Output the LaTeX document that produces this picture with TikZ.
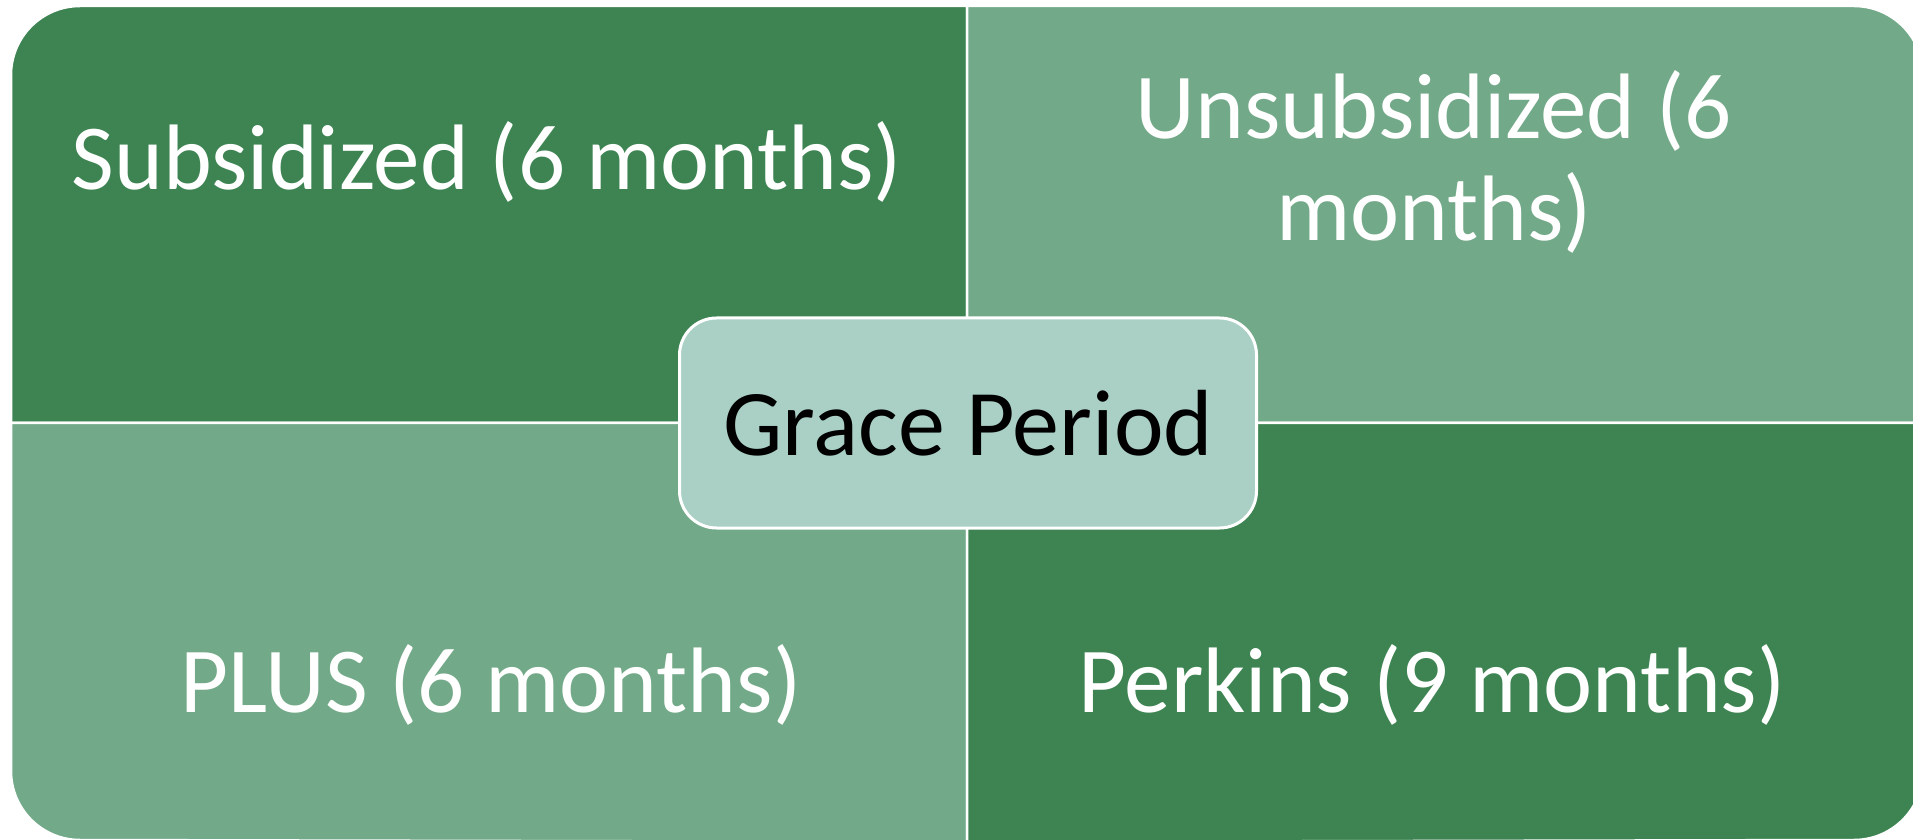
\documentclass[tikz,border=0pt]{standalone}
\usepackage{fontspec}
\setmainfont{Carlito}
\definecolor{darkq}{HTML}{3D8452}
\definecolor{lightq}{HTML}{72A988}
\definecolor{centerq}{HTML}{AAD0C6}
\tikzset{
  quad/.style={draw=white, line width=2.5pt},
  quadtext/.style={text=white, font=\fontsize{93}{102}\selectfont, inner sep=0pt, align=center},
  centerbox/.style={draw=white, line width=3pt, fill=centerq, rounded corners=37pt,
    minimum width=577pt, minimum height=210pt, inner sep=0pt,
    font=\fontsize{94}{100}\selectfont, text=black}
}
\begin{document}
\begin{tikzpicture}[x=1pt,y=1pt]
\useasboundingbox (0,0) rectangle (1913,839);
\fill[white] (0,0) rectangle (1913,839);
% quadrants
\path[quad, fill=darkq] (967,416) -- (11,416) -- (11,764) arc[start angle=180,end angle=90,radius=69] -- (967,833) -- cycle;
\path[quad, fill=lightq] (967,416) -- (967,833) -- (1854,833) arc[start angle=90,end angle=0,radius=69] -- (1923,416) -- cycle;
\path[quad, fill=lightq] (967,416) -- (11,416) -- (11,68) arc[start angle=180,end angle=270,radius=69] -- (967,-3) -- cycle;
\path[quad, fill=darkq] (967,416) -- (1923,416) -- (1923,68) arc[start angle=0,end angle=-90,radius=69] -- (967,-3) -- cycle;
% texts
\node[quadtext, anchor=base] (sub) at (487,649) {Subsidized (6 months)};
\node[quadtext, anchor=base] (unsub) at (1434,598) {Unsubsidized (6\\months)};
\node[quadtext, anchor=base] (plus) at (491,127) {PLUS (6 months)};
\node[quadtext, anchor=base] (perk) at (1432,127) {Perkins (9 months)};
% center
\node[centerbox] (grace) at (968,416) {Grace Period};
\end{tikzpicture}
\end{document}
